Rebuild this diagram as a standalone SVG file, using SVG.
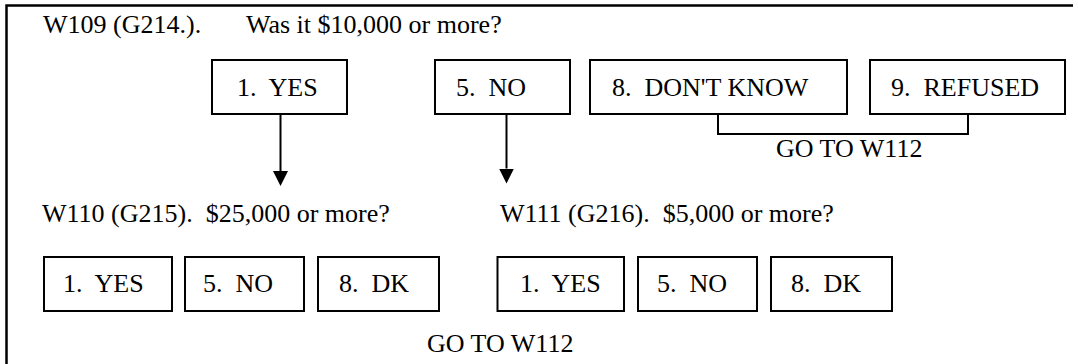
<svg xmlns="http://www.w3.org/2000/svg" width="1078" height="364" viewBox="0 0 1078 364">
<style>
.t{font-family:"Liberation Serif","Times New Roman",serif;font-size:26px;fill:#000;white-space:pre}
.box{fill:#fff;stroke:#000;stroke-width:2}
.conn{fill:none;stroke:#000;stroke-width:2}
.frame{fill:none;stroke:#000;stroke-width:2.5}
</style>
<defs>
<marker id="ah" markerUnits="userSpaceOnUse" markerWidth="16" markerHeight="16" viewBox="0 0 16 16" refX="0" refY="7.5" orient="auto">
<path d="M0,0 L15,7.5 L0,15 z" fill="#000"/>
</marker>
</defs>
<path class="frame" d="M6.5,364 V5.5 H1073"/>
<g id="q_w109">
<text class="t" x="43" y="33">W109 (G214.).</text>
<text class="t" x="246" y="33">Was it $10,000 or more?</text>
</g>
<g id="w109_yes"><rect class="box" x="212" y="60" width="135" height="54"/><text class="t" x="237" y="96">1.  YES</text></g>
<g id="w109_no"><rect class="box" x="435" y="60" width="135" height="54"/><text class="t" x="456" y="96">5.  NO</text></g>
<g id="w109_dk"><rect class="box" x="590" y="60" width="257" height="54"/><text class="t" x="612" y="96">8.  DON'T KNOW</text></g>
<g id="w109_ref"><rect class="box" x="870" y="60" width="195" height="54"/><text class="t" x="891" y="96">9.  REFUSED</text></g>
<g id="goto_top"><text class="t" x="776" y="157">GO TO W112</text></g>
<g id="q_w110"><text class="t" x="42" y="222">W110 (G215).  $25,000 or more?</text></g>
<g id="q_w111"><text class="t" x="500" y="222">W111 (G216).  $5,000 or more?</text></g>
<g id="w110_yes"><rect class="box" x="44" y="257" width="128" height="54"/><text class="t" x="63" y="292">1.  YES</text></g>
<g id="w110_no"><rect class="box" x="185" y="257" width="119" height="54"/><text class="t" x="203" y="292">5.  NO</text></g>
<g id="w110_dk"><rect class="box" x="318" y="257" width="121" height="54"/><text class="t" x="339" y="292">8.  DK</text></g>
<g id="w111_yes"><rect class="box" x="497.5" y="257" width="126.5" height="54"/><text class="t" x="520" y="292">1.  YES</text></g>
<g id="w111_no"><rect class="box" x="638" y="257" width="119" height="54"/><text class="t" x="657" y="292">5.  NO</text></g>
<g id="w111_dk"><rect class="box" x="771" y="257" width="121" height="54"/><text class="t" x="791" y="292">8.  DK</text></g>
<g id="goto_bottom"><text class="t" x="427" y="352">GO TO W112</text></g>
<g id="connectors">
<line class="conn" x1="280.5" y1="114" x2="280.5" y2="171" marker-end="url(#ah)"/>
<line class="conn" x1="506.5" y1="114" x2="506.5" y2="168.5" marker-end="url(#ah)"/>
<path class="conn" d="M718,114 V134 H968 V114"/>
</g>
</svg>
